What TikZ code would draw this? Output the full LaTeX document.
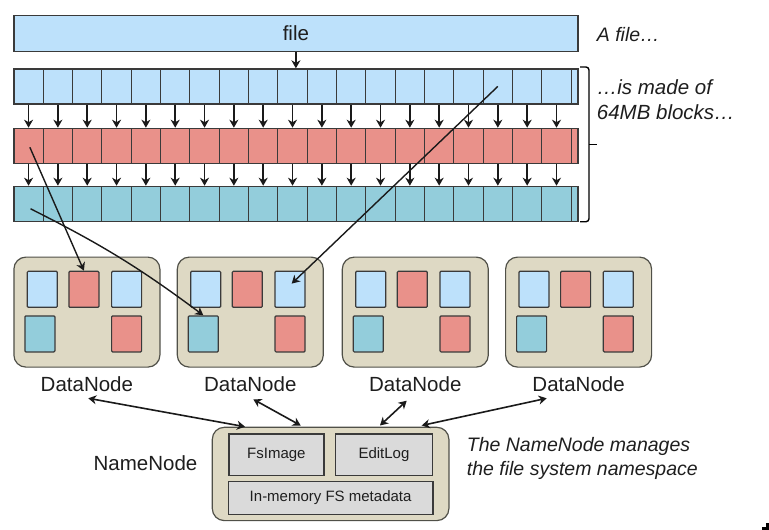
\documentclass[tikz,border=0pt]{standalone}
\usepackage{fontspec}
\setmainfont{Liberation Sans}
\usetikzlibrary{arrows.meta,calc}
\definecolor{lblue}{HTML}{BDE1FB}
\definecolor{lred}{HTML}{E9918A}
\definecolor{lteal}{HTML}{93CDDB}
\definecolor{beige}{HTML}{DED9C4}
\definecolor{lgray}{HTML}{DADADA}
\definecolor{stroke}{HTML}{3A3A3A}
\definecolor{boxline}{HTML}{505048}
\definecolor{arrowc}{HTML}{1A1A1A}
\definecolor{txt}{HTML}{1E1E1E}
\begin{document}
\begin{tikzpicture}[x=1pt,y=-1pt,
  cell/.style={draw=stroke,line width=1.2pt,inner sep=0,minimum width=29.33pt,minimum height=35pt,anchor=north west},
  blk/.style={draw=stroke,line width=1.2pt,inner sep=0,minimum width=30pt,minimum height=36pt,anchor=north west,rounded corners=1pt},
  dnbox/.style={draw=boxline,fill=beige,line width=1.2pt,rounded corners=12pt,inner sep=0,minimum width=146pt,minimum height=110pt,anchor=north west},
  gbox/.style={draw=stroke,fill=lgray,line width=1.2pt,inner sep=0,anchor=north west,text=txt,font=\fontsize{15}{18}\selectfont},
  tip/.tip={Stealth[length=8pt,width=9pt,inset=2.5pt]},
  arr/.style={-tip,line width=1.6pt,draw=arrowc},
  darr/.style={tip-tip,line width=1.6pt,draw=arrowc},
  lbl/.style={text=txt,font=\fontsize{20.5}{24}\selectfont},
  itl/.style={text=txt,font=\fontsize{19.5}{24}\selectfont\itshape,align=left,anchor=west,inner sep=0}
]
\useasboundingbox (0,0) rectangle (769,530);

% file bar
\node[draw=stroke,fill=lblue,line width=1.2pt,inner sep=0,minimum width=564pt,minimum height=36pt,anchor=north west,lbl] (file) at (13.3,15) {file};
\node[itl] (afile) at (596.7,35) {A file…};

% block rows
\foreach \r/\y/\c in {1/68.3/lblue,2/127.7/lred,3/185.7/lteal}{
  \foreach \k in {0,...,18}{
    \node[cell,fill=\c] (r\r-\k) at ({13.3+29.33*\k},\y) {};
  }
  \node[cell,fill=\c,minimum width=6.7pt] (r\r-19) at (570.6,\y) {};
}
\foreach \k in {0,...,18}{
  \draw[arr] (r1-\k.south) -- (r2-\k.north);
  \draw[arr] (r2-\k.south) -- (r3-\k.north);
}
\draw[arr] (file.south) -- (file.south |- r1-9.north);

% brace
\draw[stroke,line width=1.4pt,rounded corners=3pt] (580,67) -- (589,67) -- (589,221.7) -- (580,221.7);
\draw[stroke,line width=1.4pt] (589,144.3) -- (596.7,144.3);
\node[itl,font=\fontsize{20.5}{25}\selectfont\itshape] (made) at (596.7,99.2) {…is made of\\64MB blocks…};

% DataNodes
\foreach \i/\x in {1/13.3,2/176.7,3/341.7,4/505}{
  \node[dnbox] (dn\i) at (\x,256.5) {};
  \node[blk,fill=lblue] (dn\i-a) at ({\x+13.4},270.7) {};
  \node[blk,fill=lred]  (dn\i-b) at ({\x+55},270.7) {};
  \node[blk,fill=lblue] (dn\i-c) at ({\x+97.7},270.7) {};
  \node[blk,fill=lteal] (dn\i-d) at ({\x+11},315.3) {};
  \node[blk,fill=lred]  (dn\i-e) at ({\x+97.7},315.3) {};
  \node[lbl] (dl\i) at ($(dn\i.south)+(0,16.5)$) {DataNode};
}

% block placement arrows
\draw[arr,line width=1.4pt] ($(r2-0.center)+(1.3,1.5)$) -- (dn1-b.north);
\draw[arr,line width=1.4pt] ($(r3-0.center)+(2,5)$) to[bend left=5] (dn2-d.north);
\draw[arr,line width=1.4pt] (r1-16.center) -- ($(dn2-c.center)+(1.7,-5.7)$);

% NameNode
\node[dnbox,minimum width=236.6pt,minimum height=93.3pt] (nn) at (211.7,426.7) {};
\node[gbox,minimum width=95pt,minimum height=41.7pt] (fsi) at (228.3,433.3) {FsImage};
\node[gbox,minimum width=96.7pt,minimum height=41.7pt] (edl) at (335,433.3) {EditLog};
\node[gbox,minimum width=204.6pt,minimum height=33.3pt] (imf) at (227.7,480.7) {In-memory FS metadata};
\node[lbl] (nnl) at (145.5,463) {NameNode};
\node[itl,font=\fontsize{19.5}{23.3}\selectfont\itshape] (nnd) at (466.7,458.4) {The NameNode manages\\the file system namespace};

% DataNode <-> NameNode
\coordinate (q1) at (88.3,398.3);  \coordinate (p1) at (245,426.7);
\coordinate (q2) at (253.3,399.3); \coordinate (p2) at (300.7,425.5);
\coordinate (q3) at (406.7,400.7); \coordinate (p3) at (380,425.5);
\coordinate (q4) at (546.7,398.3); \coordinate (p4) at (421.7,425.5);
\draw[darr] (q1) -- (p1);
\draw[darr] (q2) -- (p2);
\draw[darr] (q3) -- (p3);
\draw[darr] (q4) -- (p4);

% stray mark
\fill[black] (762,527.3) rectangle (769,530);
\fill[black] (766,522.7) rectangle (769,530);
\end{tikzpicture}
\end{document}
